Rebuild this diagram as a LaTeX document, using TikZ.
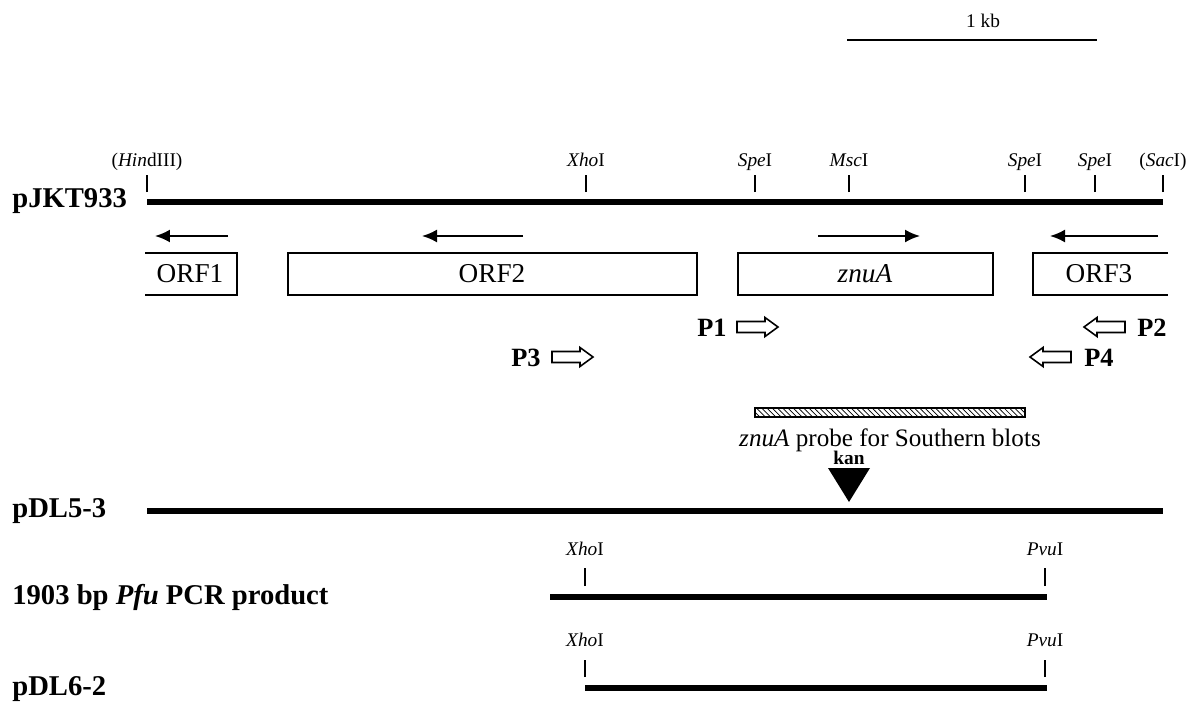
\documentclass[tikz,border=0pt]{standalone}
\usepackage{fontspec}
\setmainfont{Liberation Serif}
\usetikzlibrary{arrows.meta,patterns,positioning}
\tikzset{
dna/.style = {line width=3.4pt},
site/.style = {line width=0.9pt},
sitelabel/.style = {font=\fontsize{11}{13}\selectfont, anchor=base, inner sep=0pt},
orf/.style = {line width=0.8pt},
orflabel/.style = {font=\fontsize{15.5}{18}\selectfont, inner sep=0pt},
plasmid/.style = {font=\fontsize{16.3}{19}\selectfont\bfseries, anchor=west, inner sep=0pt},
primerlabel/.style = {font=\fontsize{15}{18}\selectfont\bfseries, inner sep=0pt},
smalllabel/.style = {font=\fontsize{11}{13}\selectfont, inner sep=0pt},
dir/.style = {->, line width=1.1pt},
primerarrow/.pic = {\draw[line width=0.9pt] (0,-5.5) -- (28,-5.5) -- (28,-9.5) -- (41,0) -- (28,9.5) -- (28,5.5) -- (0,5.5) -- cycle;}
}
\begin{document}
\begin{tikzpicture}[x=0.02cm, y=-0.02cm, >={Latex[length=3mm,width=2.6mm]}]
\useasboundingbox (0,0) rectangle (1187,727);

% scale bar
\coordinate (bar-l) at (847,40);
\coordinate (bar-r) at (1097,40);
\draw[line width=0.9pt] (bar-l) -- (bar-r);
\node[smalllabel] (kb) at (983,21) {1 kb};

% pJKT933
\node[plasmid] (jkt) at (12,201) {pJKT933};
\coordinate (jkt-l) at (147,202);
\coordinate (jkt-r) at (1163,202);
\draw[dna] (jkt-l) -- (jkt-r);
\foreach \x/\name [count=\i] in {147/{(\textit{Hin}dIII)}, 586/{\textit{Xho}I}, 755/{\textit{Spe}I},
    849/{\textit{Msc}I}, 1025/{\textit{Spe}I}, 1095/{\textit{Spe}I}, 1163/{(\textit{Sac}I)}} {
  \draw[site] (\x,192) -- (\x,175) coordinate (t\i);
  \node[sitelabel] (site\i) at (\x,166) {\name};
}

% reading frames
\draw[dir] (228,236) -- (155,236);
\draw[dir] (523,236) -- (422,236);
\draw[dir] (818,236) -- (920,236);
\draw[dir] (1158,236) -- (1050,236);

\draw[orf] (145,253) -- (237,253) -- (237,295) -- (145,295);
\node[orflabel] (orf1) at (190,274) {ORF1};
\draw[orf] (288,253) rectangle (697,295);
\node[orflabel] (orf2) at (492,274) {ORF2};
\draw[orf] (738,253) rectangle (993,295);
\node[orflabel] (znua) at (865,274) {\textit{znuA}};
\draw[orf] (1168,253) -- (1033,253) -- (1033,295) -- (1168,295);
\node[orflabel] (orf3) at (1099,274) {ORF3};

% primers
\node[primerlabel] (p1) at (712,328) {P1};
\pic at (737,327) {primerarrow};
\node[primerlabel] (p3) at (526,358) {P3};
\pic at (552,357) {primerarrow};
\node[primerlabel] (p2) at (1152,328) {P2};
\pic[xscale=-1] at (1125,327) {primerarrow};
\node[primerlabel] (p4) at (1099,358) {P4};
\pic[xscale=-1] at (1071,357) {primerarrow};

% probe
\draw[line width=0.8pt, pattern=north west lines] (755,408) rectangle (1025,417);
\node[orflabel, font=\fontsize{14.3}{17}\selectfont, anchor=base] (probe) at (890,446) {\textit{znuA} probe for Southern blots};

% kan insertion
\node[font=\fontsize{11}{13}\selectfont\bfseries, inner sep=0pt, anchor=south] (kan) at (849,465) {kan};
\fill (828,468) -- (870,468) -- (849,502) -- cycle;

% pDL5-3
\node[plasmid] (dl5) at (12,511) {pDL5-3};
\coordinate (dl5-l) at (147,511);
\coordinate (dl5-r) at (1163,511);
\draw[dna] (dl5-l) -- (dl5-r);

% PCR product
\node[plasmid] (pcr) at (12,597) {1903 bp \textit{Pfu} PCR product};
\coordinate (pcr-l) at (550,597);
\coordinate (pcr-r) at (1047,597);
\draw[dna] (pcr-l) -- (pcr-r);
\draw[site] (585,586) -- (585,568);
\node[sitelabel] (pcr-xho) at (585,555) {\textit{Xho}I};
\draw[site] (1045,586) -- (1045,568);
\node[sitelabel] (pcr-pvu) at (1045,555) {\textit{Pvu}I};

% pDL6-2
\node[plasmid] (dl6) at (12,689) {pDL6-2};
\coordinate (dl6-l) at (585,688);
\coordinate (dl6-r) at (1047,688);
\draw[dna] (dl6-l) -- (dl6-r);
\draw[site] (585,677) -- (585,660);
\node[sitelabel] (dl6-xho) at (585,646) {\textit{Xho}I};
\draw[site] (1045,677) -- (1045,660);
\node[sitelabel] (dl6-pvu) at (1045,646) {\textit{Pvu}I};
\end{tikzpicture}
\end{document}
